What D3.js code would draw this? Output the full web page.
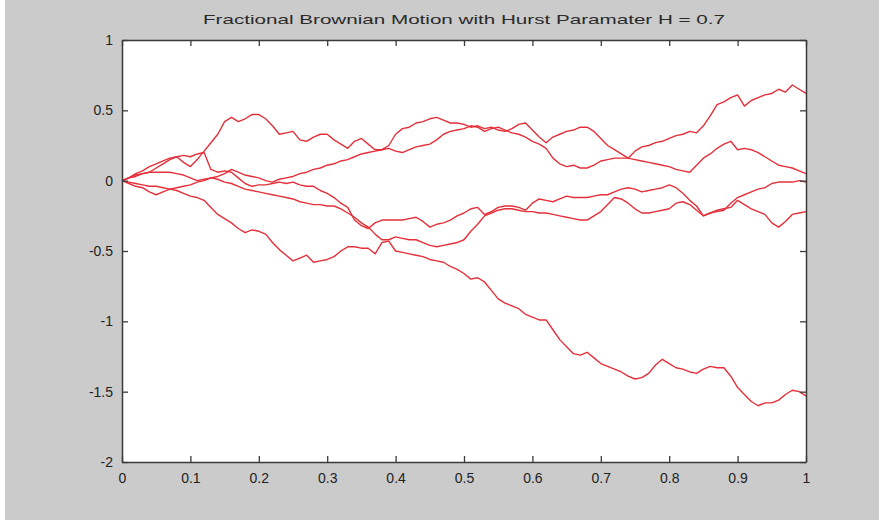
<!DOCTYPE html>
<html>
<head>
<meta charset="utf-8">
<script src="https://cdn.jsdelivr.net/npm/d3@7"></script>
<style>
  body { margin: 0; background: #ffffff; }
  svg { display: block; }
</style>
</head>
<body>
<div id="chart"></div>
<script>
// time grid: 0, 0.01, ... 1 (101 samples per path)
var tSteps = d3.range(101).map(function(i){ return i / 100; });

var xTicks = [0, 0.1, 0.2, 0.3, 0.4, 0.5, 0.6, 0.7, 0.8, 0.9, 1];
var yTicks = [-2, -1.5, -1, -0.5, 0, 0.5, 1];

// five sample paths
var pathA = [0, 0.02, 0.03, 0.05, 0.06, 0.09, 0.12, 0.15, 0.17, 0.13,
  0.10, 0.15, 0.21, 0.27, 0.33, 0.42, 0.45, 0.42, 0.44, 0.47,
  0.47, 0.44, 0.39, 0.33, 0.34, 0.35, 0.29, 0.28, 0.31, 0.33,
  0.33, 0.29, 0.26, 0.23, 0.28, 0.30, 0.26, 0.22, 0.22, 0.25,
  0.33, 0.37, 0.38, 0.41, 0.42, 0.44, 0.45, 0.43, 0.41, 0.41,
  0.40, 0.38, 0.39, 0.37, 0.38, 0.36, 0.35, 0.37, 0.40, 0.41,
  0.36, 0.31, 0.27, 0.31, 0.33, 0.35, 0.36, 0.38, 0.38, 0.35,
  0.30, 0.25, 0.22, 0.19, 0.16, 0.21, 0.24, 0.25, 0.27, 0.28,
  0.30, 0.32, 0.33, 0.35, 0.34, 0.39, 0.46, 0.54, 0.56, 0.59,
  0.61, 0.53, 0.57, 0.59, 0.61, 0.62, 0.65, 0.63, 0.68, 0.65, 0.62];

var pathB = [0, -0.02, -0.04, -0.05, -0.08, -0.10, -0.08, -0.06, -0.05, -0.04,
  -0.03, -0.01, 0.00, 0.02, 0.03, 0.05, 0.08, 0.06, 0.04, 0.03,
  0.02, 0.00, -0.01, 0.01, 0.02, 0.03, 0.05, 0.06, 0.08, 0.09,
  0.11, 0.12, 0.14, 0.15, 0.17, 0.19, 0.20, 0.21, 0.22, 0.23,
  0.21, 0.20, 0.22, 0.24, 0.25, 0.26, 0.29, 0.33, 0.35, 0.36,
  0.37, 0.39, 0.38, 0.35, 0.37, 0.38, 0.36, 0.34, 0.33, 0.31,
  0.28, 0.26, 0.23, 0.16, 0.12, 0.10, 0.11, 0.09, 0.09, 0.11,
  0.14, 0.15, 0.16, 0.16, 0.16, 0.15, 0.14, 0.13, 0.12, 0.11,
  0.10, 0.08, 0.07, 0.06, 0.11, 0.16, 0.19, 0.23, 0.26, 0.28,
  0.22, 0.23, 0.22, 0.20, 0.17, 0.14, 0.11, 0.10, 0.09, 0.07, 0.05];

var pathC = [0, 0.02, 0.05, 0.07, 0.10, 0.12, 0.14, 0.16, 0.17, 0.18,
  0.17, 0.19, 0.20, 0.08, 0.06, 0.07, 0.06, 0.02, -0.02, -0.04,
  -0.03, -0.03, -0.02, -0.01, -0.02, -0.01, -0.03, -0.04, -0.04, -0.07,
  -0.09, -0.12, -0.16, -0.19, -0.28, -0.32, -0.34, -0.30, -0.28, -0.28,
  -0.28, -0.28, -0.27, -0.26, -0.29, -0.33, -0.31, -0.30, -0.28, -0.25,
  -0.23, -0.20, -0.19, -0.24, -0.22, -0.19, -0.18, -0.18, -0.19, -0.21,
  -0.16, -0.13, -0.14, -0.15, -0.13, -0.11, -0.12, -0.12, -0.12, -0.11,
  -0.10, -0.10, -0.08, -0.06, -0.05, -0.06, -0.08, -0.07, -0.06, -0.05,
  -0.03, -0.05, -0.09, -0.14, -0.18, -0.25, -0.23, -0.21, -0.20, -0.19,
  -0.14, -0.17, -0.20, -0.22, -0.24, -0.30, -0.33, -0.29, -0.24, -0.23, -0.22];

var pathD = [0, 0.02, 0.04, 0.05, 0.06, 0.06, 0.06, 0.06, 0.05, 0.04,
  0.02, 0.00, 0.01, 0.02, 0.01, -0.01, -0.02, -0.04, -0.06, -0.07,
  -0.08, -0.09, -0.10, -0.11, -0.12, -0.13, -0.15, -0.16, -0.17, -0.17,
  -0.18, -0.18, -0.20, -0.23, -0.26, -0.30, -0.33, -0.38, -0.42, -0.42,
  -0.40, -0.41, -0.42, -0.42, -0.44, -0.46, -0.47, -0.46, -0.45, -0.44,
  -0.42, -0.36, -0.31, -0.25, -0.23, -0.21, -0.20, -0.20, -0.21, -0.22,
  -0.22, -0.23, -0.23, -0.24, -0.25, -0.26, -0.27, -0.28, -0.28, -0.25,
  -0.22, -0.17, -0.12, -0.13, -0.16, -0.20, -0.23, -0.23, -0.22, -0.21,
  -0.20, -0.16, -0.15, -0.17, -0.21, -0.25, -0.23, -0.22, -0.21, -0.16,
  -0.12, -0.10, -0.08, -0.06, -0.05, -0.02, -0.01, -0.01, -0.01, 0.00, -0.01];

var pathE = [0, -0.01, -0.02, -0.03, -0.04, -0.04, -0.05, -0.06, -0.07, -0.09,
  -0.11, -0.12, -0.14, -0.19, -0.24, -0.27, -0.30, -0.34, -0.37, -0.35,
  -0.36, -0.38, -0.44, -0.49, -0.53, -0.57, -0.55, -0.53, -0.58, -0.57,
  -0.56, -0.54, -0.50, -0.47, -0.47, -0.48, -0.48, -0.52, -0.44, -0.43,
  -0.50, -0.51, -0.52, -0.53, -0.54, -0.56, -0.57, -0.58, -0.61, -0.63,
  -0.66, -0.70, -0.69, -0.72, -0.78, -0.84, -0.87, -0.89, -0.91, -0.95,
  -0.97, -0.99, -0.99, -1.06, -1.13, -1.18, -1.23, -1.24, -1.22, -1.26,
  -1.30, -1.32, -1.34, -1.36, -1.39, -1.41, -1.40, -1.37, -1.31, -1.27,
  -1.30, -1.33, -1.34, -1.36, -1.37, -1.34, -1.32, -1.33, -1.33, -1.39,
  -1.47, -1.52, -1.57, -1.60, -1.58, -1.58, -1.56, -1.52, -1.49, -1.50, -1.53];

var paths = [pathA, pathB, pathC, pathD, pathE];

var width = 879;
var height = 520;
var plotLeft = 122, plotRight = 806, plotTop = 40, plotBottom = 462;
var font = "'Liberation Sans', Arial, sans-serif";

var svg = d3.select("#chart").append("svg")
  .attr("width", width)
  .attr("height", height);

// figure background
svg.append("rect")
  .attr("x", 5).attr("y", 0)
  .attr("width", width - 5).attr("height", height)
  .attr("fill", "#cbcbcb");

svg.append("rect")
  .attr("x", plotLeft).attr("y", plotTop)
  .attr("width", plotRight - plotLeft).attr("height", plotBottom - plotTop)
  .attr("fill", "#ffffff");

var xScale = d3.scaleLinear().domain([0, 1]).range([plotLeft, plotRight]);
var yScale = d3.scaleLinear().domain([-2, 1]).range([plotBottom, plotTop]);

var fmt = function(d){ return String(d); };

var line = d3.line()
  .x(function(d, i){ return xScale(tSteps[i]); })
  .y(function(d){ return yScale(d); });

svg.append("g").selectAll("path").data(paths).enter().append("path")
  .attr("d", line)
  .attr("fill", "none")
  .attr("stroke", "#e4303a")
  .attr("stroke-width", 1.4)
  .attr("stroke-linejoin", "round");

// axes: ticks point inward on all four sides
function styleAxis(g){
  g.select(".domain").attr("stroke", "#3a3a3a").attr("stroke-width", 1.5);
  g.selectAll(".tick line").attr("stroke", "#3a3a3a").attr("stroke-width", 1.3);
  g.selectAll(".tick text")
    .attr("fill", "#222")
    .style("font-family", font)
    .style("font-size", "14px");
}

svg.append("g")
  .attr("transform", "translate(0," + plotBottom + ")")
  .call(d3.axisBottom(xScale).tickValues(xTicks).tickFormat(fmt)
    .tickSizeInner(-6).tickSizeOuter(0).tickPadding(11))
  .call(styleAxis);

svg.append("g")
  .attr("transform", "translate(0," + plotTop + ")")
  .call(d3.axisTop(xScale).tickValues(xTicks).tickFormat("")
    .tickSizeInner(-6).tickSizeOuter(0))
  .call(styleAxis);

svg.append("g")
  .attr("transform", "translate(" + plotLeft + ",0)")
  .call(d3.axisLeft(yScale).tickValues(yTicks).tickFormat(fmt)
    .tickSizeInner(-6).tickSizeOuter(0).tickPadding(9))
  .call(styleAxis);

svg.append("g")
  .attr("transform", "translate(" + plotRight + ",0)")
  .call(d3.axisRight(yScale).tickValues(yTicks).tickFormat("")
    .tickSizeInner(-6).tickSizeOuter(0))
  .call(styleAxis);

svg.append("text")
  .attr("x", (plotLeft + plotRight) / 2)
  .attr("y", 24)
  .attr("text-anchor", "middle")
  .attr("fill", "#2a2a2a")
  .attr("textLength", 522)
  .attr("lengthAdjust", "spacingAndGlyphs")
  .style("font-family", font)
  .style("font-size", "13px")
  .text("Fractional Brownian Motion with Hurst Paramater H = 0.7");
</script>
</body>
</html>
